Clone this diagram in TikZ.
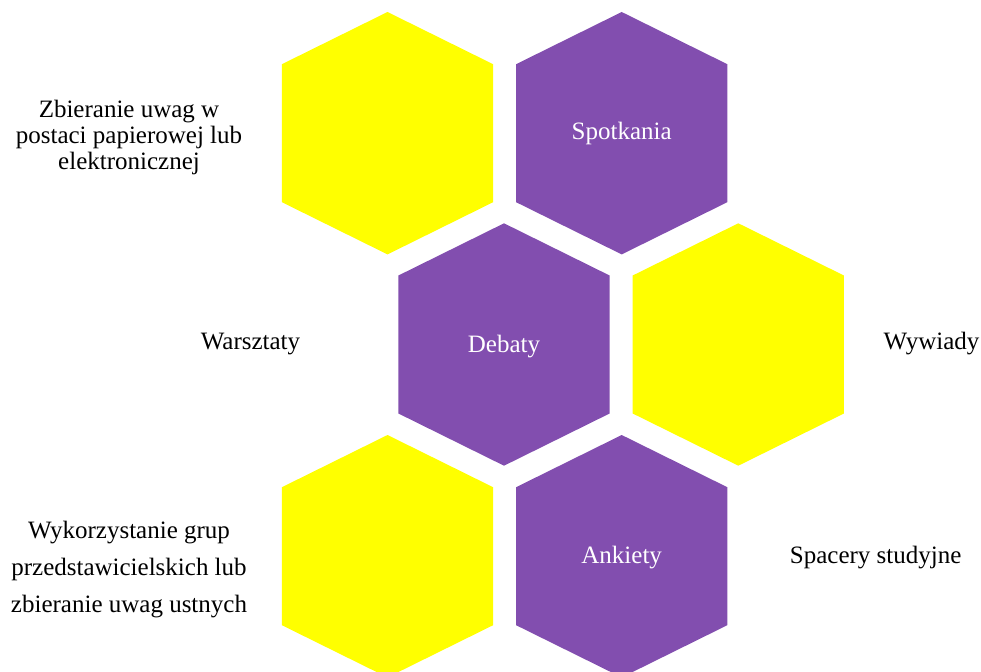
\documentclass[tikz,border=0pt]{standalone}
\usepackage{fontspec}
\setmainfont{Liberation Serif}
\definecolor{hexpurple}{HTML}{824EAF}
\definecolor{hexyellow}{HTML}{FFFF00}
\begin{document}
\begin{tikzpicture}[x=1pt,y=-1pt,
  hexfill/.style={fill=#1},
  lbl/.style={font=\fontsize{25}{26}\selectfont, inner sep=0pt, text=black},
  inlbl/.style={font=\fontsize{25}{26}\selectfont, inner sep=0pt, text=white, anchor=base}]
\useasboundingbox (0,0) rectangle (981,671);
\clip (0,0) rectangle (981,671);
\newcommand{\hexshape}[3]{%
  \fill[hexfill=#3] (#1,#2) ++(0,-121.2) -- ++(105.6,52.2) -- ++(0,138) -- ++(-105.6,52.2) -- ++(-105.6,-52.2) -- ++(0,-138) -- cycle;}
% row 1
\hexshape{387.5}{133.2}{hexyellow}
\hexshape{621.7}{133.2}{hexpurple}
% row 2
\hexshape{504}{344.5}{hexpurple}
\hexshape{738.3}{344.5}{hexyellow}
% row 3
\hexshape{387.5}{556.2}{hexyellow}
\hexshape{621.7}{556.2}{hexpurple}
% labels inside hexes
\node[inlbl] (spotkania) at (621.7,140) {Spotkania};
\node[inlbl] (debaty) at (504,352.7) {Debaty};
\node[inlbl] (ankiety) at (621.7,563.3) {Ankiety};
% outside labels
\node[lbl, align=center] (zbieranie) at (129,137.2) {Zbieranie uwag w\\postaci papierowej lub\\elektronicznej};
\node[lbl, anchor=base] (warsztaty) at (250.5,349.3) {Warsztaty};
\node[lbl, anchor=base] (wywiady) at (931.5,349) {Wywiady};
\node[lbl, align=center, font=\fontsize{25}{37}\selectfont] (wykorzystanie) at (129,569.2) {Wykorzystanie grup\\przedstawicielskich lub\\zbieranie uwag ustnych};
\node[lbl, anchor=base] (spacery) at (875.7,563) {Spacery studyjne};
\end{tikzpicture}
\end{document}
